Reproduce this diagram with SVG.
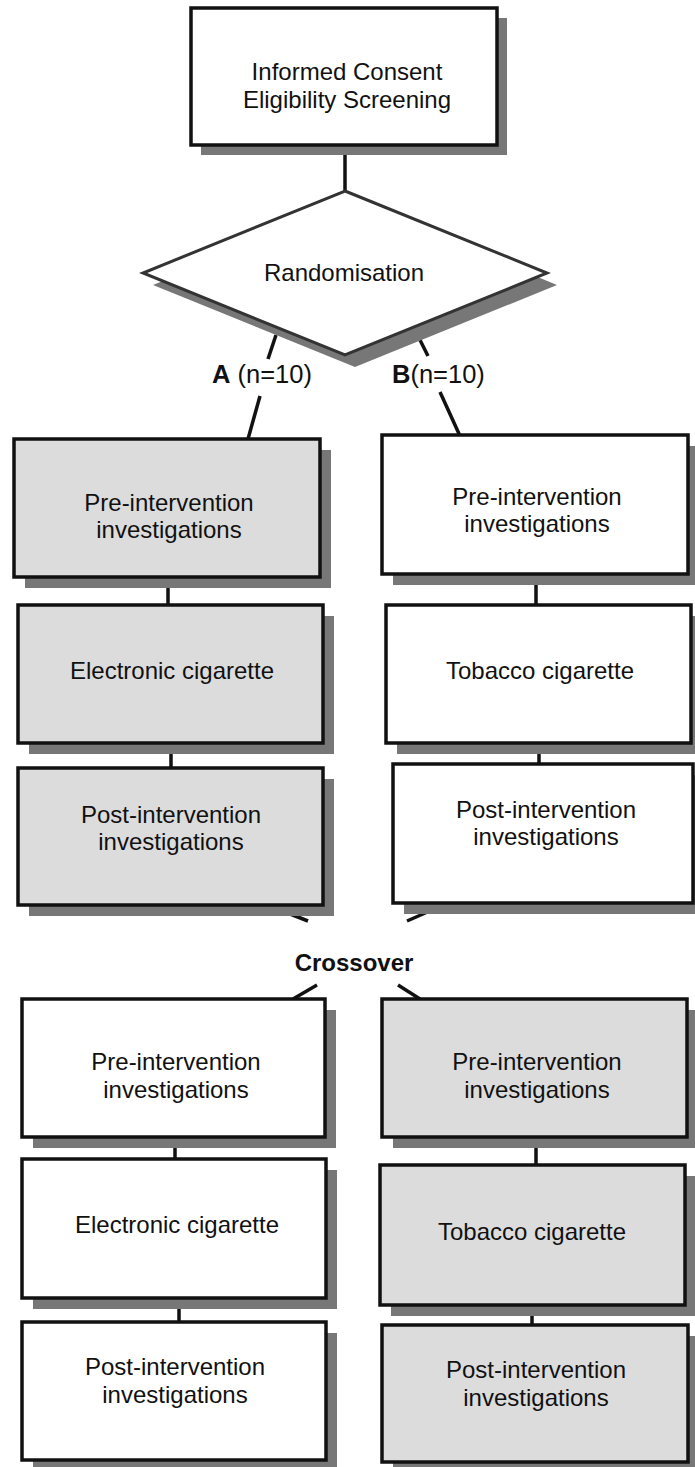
<svg xmlns="http://www.w3.org/2000/svg" width="695" height="1467" viewBox="0 0 695 1467">
<style>
.bg{fill:#ffffff}
.sh{fill:#777777}
.box{stroke:#111111;stroke-width:3.5}
.w{fill:#ffffff}
.g{fill:#dcdcdc}
.t{font-family:"Liberation Sans",Arial,sans-serif;font-size:24px;fill:#111111;text-anchor:middle}
.s{text-anchor:start;font-size:25.5px}
.b{font-weight:bold}
.c{stroke:#111111;stroke-width:3.5;fill:none}
</style>
<rect class="bg" x="0" y="0" width="695" height="1467"/>
<g id="connectors">
<line class="c" x1="345" y1="145" x2="345" y2="195"/>
<line class="c" x1="276" y1="335" x2="268" y2="359"/>
<line class="c" x1="260" y1="396" x2="248" y2="439"/>
<line class="c" x1="420" y1="340" x2="428" y2="356"/>
<line class="c" x1="440" y1="392" x2="460" y2="436"/>
<line class="c" x1="168" y1="577" x2="168" y2="605"/>
<line class="c" x1="171" y1="743" x2="171" y2="768"/>
<line class="c" x1="536" y1="574" x2="536" y2="605"/>
<line class="c" x1="539" y1="743" x2="539" y2="764"/>
<line class="c" x1="280" y1="910" x2="308" y2="921"/>
<line class="c" x1="432" y1="910" x2="407" y2="921"/>
<line class="c" x1="317" y1="985" x2="293" y2="999"/>
<line class="c" x1="398" y1="985" x2="420" y2="999"/>
<line class="c" x1="175" y1="1137" x2="175" y2="1159"/>
<line class="c" x1="179" y1="1298" x2="179" y2="1322"/>
<line class="c" x1="536" y1="1137" x2="536" y2="1165"/>
<line class="c" x1="532" y1="1305" x2="532" y2="1325"/>
</g>
<g id="consent">
<rect class="sh" x="201" y="18" width="306" height="137"/>
<rect class="box w" x="191" y="8" width="306" height="137"/>
<text class="t" x="347" y="80">Informed Consent</text>
<text class="t" x="347" y="108">Eligibility Screening</text>
</g>
<g id="randomisation">
<polygon class="sh" points="355,202 557,285 355,367 153,285"/>
<polygon points="345,191 547,273 345,355 143,273" fill="#ffffff" stroke="#333333" stroke-width="3"/>
<text class="t" x="344" y="281">Randomisation</text>
</g>
<g id="label-a">
<text class="t s" x="212" y="383"><tspan class="b">A</tspan> (n=10)</text>
</g>
<g id="label-b">
<text class="t s" x="392" y="383"><tspan class="b">B</tspan>(n=10)</text>
</g>
<g id="a-pre">
<rect class="sh" x="25" y="450" width="306" height="138"/>
<rect class="box g" x="14" y="439" width="306" height="138" stroke="#333333"/>
<text class="t" x="169" y="511">Pre-intervention</text>
<text class="t" x="169" y="538">investigations</text>
</g>
<g id="a-ecig">
<rect class="sh" x="29" y="616" width="305" height="138"/>
<rect class="box g" x="18" y="605" width="305" height="138"/>
<text class="t" x="172" y="679">Electronic cigarette</text>
</g>
<g id="a-post">
<rect class="sh" x="29" y="779" width="305" height="137"/>
<rect class="box g" x="18" y="768" width="305" height="137"/>
<text class="t" x="171" y="823">Post-intervention</text>
<text class="t" x="171" y="850">investigations</text>
</g>
<g id="b-pre">
<rect class="sh" x="393" y="446" width="306" height="139"/>
<rect class="box w" x="382" y="435" width="306" height="139"/>
<text class="t" x="537" y="505">Pre-intervention</text>
<text class="t" x="537" y="532">investigations</text>
</g>
<g id="b-tob">
<rect class="sh" x="397" y="616" width="305" height="138"/>
<rect class="box w" x="386" y="605" width="305" height="138"/>
<text class="t" x="540" y="679">Tobacco cigarette</text>
</g>
<g id="b-post">
<rect class="sh" x="404" y="775" width="300" height="139"/>
<rect class="box w" x="393" y="764" width="300" height="139"/>
<text class="t" x="546" y="818">Post-intervention</text>
<text class="t" x="546" y="845">investigations</text>
</g>
<g id="crossover">
<text class="t b" x="354" y="971">Crossover</text>
</g>
<g id="a2-pre">
<rect class="sh" x="33" y="1010" width="303" height="138"/>
<rect class="box w" x="22" y="999" width="303" height="138"/>
<text class="t" x="176" y="1070">Pre-intervention</text>
<text class="t" x="176" y="1098">investigations</text>
</g>
<g id="a2-ecig">
<rect class="sh" x="33" y="1170" width="304" height="139"/>
<rect class="box w" x="22" y="1159" width="304" height="139"/>
<text class="t" x="177" y="1233">Electronic cigarette</text>
</g>
<g id="a2-post">
<rect class="sh" x="33" y="1333" width="304" height="138"/>
<rect class="box w" x="22" y="1322" width="304" height="138"/>
<text class="t" x="175" y="1375">Post-intervention</text>
<text class="t" x="175" y="1403">investigations</text>
</g>
<g id="b2-pre">
<rect class="sh" x="393" y="1010" width="305" height="138"/>
<rect class="box g" x="382" y="999" width="305" height="138"/>
<text class="t" x="537" y="1070">Pre-intervention</text>
<text class="t" x="537" y="1098">investigations</text>
</g>
<g id="b2-tob">
<rect class="sh" x="391" y="1176" width="305" height="140"/>
<rect class="box g" x="380" y="1165" width="305" height="140"/>
<text class="t" x="532" y="1240">Tobacco cigarette</text>
</g>
<g id="b2-post">
<rect class="sh" x="393" y="1336" width="306" height="137"/>
<rect class="box g" x="382" y="1325" width="306" height="137"/>
<text class="t" x="536" y="1378">Post-intervention</text>
<text class="t" x="536" y="1406">investigations</text>
</g>
</svg>
